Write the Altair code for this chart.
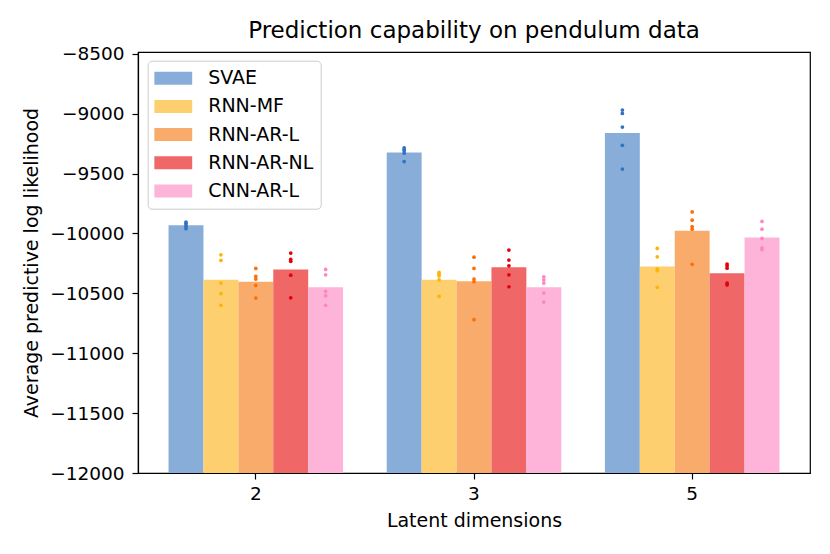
import altair as alt
import pandas as pd

dims = ["2", "3", "5"]
methods = ["SVAE", "RNN-MF", "RNN-AR-L", "RNN-AR-NL", "CNN-AR-L"]
bar_colors = ["#89add9", "#fecf6e", "#f9ab6b", "#ef6767", "#feb3d9"]
dot_colors = ["#3272c2", "#fdb40a", "#fe6f03", "#e3000f", "#fd86c4"]

# mean predictive log likelihood per method (rows) and latent dimension (cols)
means = {
    "SVAE":      [-9931, -9325, -9162],
    "RNN-MF":    [-10387, -10387, -10275],
    "RNN-AR-L":  [-10403, -10400, -9978],
    "RNN-AR-NL": [-10300, -10283, -10333],
    "CNN-AR-L":  [-10450, -10450, -10033],
}

# individual runs (5 per bar)
runs = {
    "SVAE": [
        [-9905, -9915, -9930, -9945, -9960],
        [-9285, -9300, -9310, -9330, -9400],
        [-8970, -8998, -9112, -9264, -9462],
    ],
    "RNN-MF": [
        [-10178, -10225, -10414, -10503, -10600],
        [-10325, -10340, -10355, -10388, -10525],
        [-10125, -10195, -10298, -10311, -10450],
    ],
    "RNN-AR-L": [
        [-10292, -10358, -10381, -10433, -10539],
        [-10198, -10292, -10381, -10403, -10720],
        [-9820, -9889, -9942, -9964, -10258],
    ],
    "RNN-AR-NL": [
        [-10164, -10217, -10233, -10348, -10537],
        [-10139, -10222, -10270, -10345, -10445],
        [-10255, -10270, -10290, -10415, -10430],
    ],
    "CNN-AR-L": [
        [-10300, -10345, -10483, -10520, -10600],
        [-10362, -10387, -10414, -10498, -10573],
        [-9900, -9964, -10042, -10120, -10135],
    ],
}

y_min, y_max = -12000, -8485
y_ticks = [-12000, -11500, -11000, -10500, -10000, -9500, -9000, -8500]

bar_rows = []
dot_rows = []
for m in methods:
    for i, d in enumerate(dims):
        bar_rows.append({"dim": d, "method": m, "value": means[m][i]})
        for v in runs[m][i]:
            dot_rows.append({"dim": d, "method": m, "value": v})
bars_df = pd.DataFrame(bar_rows)
dots_df = pd.DataFrame(dot_rows)

FONT = "DejaVu Sans"

x_enc = alt.X(
    "dim:N",
    sort=dims,
    scale=alt.Scale(paddingInner=0.2, paddingOuter=0.14),
    axis=alt.Axis(
        title="Latent dimensions",
        labelAngle=0,
        labelFontSize=18.5,
        titleFontSize=19,
        labelPadding=5,
        titlePadding=9,
        tickSize=6,
        tickColor="black",
        domainColor="black",
        labelColor="black",
        titleColor="black",
        titleFontWeight="normal",
        grid=False,
        bandPosition=0.5,
    ),
)
xo_enc = alt.XOffset(
    "method:N", sort=methods, scale=alt.Scale(paddingInner=0, paddingOuter=0)
)
y_scale = alt.Scale(domain=[y_min, y_max], zero=False, nice=False)

bars = alt.Chart(bars_df).mark_bar(clip=True).encode(
    x=x_enc,
    xOffset=xo_enc,
    y=alt.Y(
        "value:Q",
        scale=y_scale,
        axis=alt.Axis(
            title="Average predictive log likelihood",
            values=y_ticks,
            format="d",
            labelFontSize=18.5,
            titleFontSize=19,
            labelPadding=8,
            titlePadding=8,
            tickSize=6,
            tickColor="black",
            domainColor="black",
            labelColor="black",
            titleColor="black",
            titleFontWeight="normal",
            grid=False,
        ),
    ),
    y2=alt.datum(y_min),
    color=alt.Color(
        "method:N",
        sort=methods,
        scale=alt.Scale(domain=methods, range=bar_colors),
        legend=alt.Legend(
            title=None,
            orient="none",
            legendX=9.7,
            legendY=8.7,
            symbolType="M-1,-0.342H1V0.342H-1Z",
            symbolSize=1444,
            symbolStrokeWidth=0,
            symbolOpacity=1,
            labelFontSize=19,
            labelColor="black",
            labelOffset=16,
            clipHeight=22,
            rowPadding=6.2,
            padding=6.5,
            strokeColor="#cccccc",
            fillColor="white",
            cornerRadius=4,
        ),
    ),
)

dots = alt.Chart(dots_df).mark_circle(size=14, opacity=1, clip=True).encode(
    x=x_enc,
    xOffset=xo_enc,
    y=alt.Y("value:Q", scale=y_scale),
    color=alt.Color(
        "method:N",
        sort=methods,
        scale=alt.Scale(domain=methods, range=dot_colors),
        legend=None,
    ),
)

chart = (
    alt.layer(bars, dots)
    .resolve_scale(color="independent")
    .properties(
        width=672,
        height=421,
        title=alt.TitleParams(
            "Prediction capability on pendulum data",
            fontSize=23,
            fontWeight="normal",
            color="black",
            font=FONT,
            frame="group",
            offset=2,
        ),
        autosize=alt.AutoSizeParams(type="none"),
        padding={"left": 130, "top": 44, "right": 12, "bottom": 81},
    )
    .configure(font=FONT)
    .configure_view(stroke="black", strokeWidth=1.2)
    .configure_axis(labelFont=FONT, titleFont=FONT, domainWidth=1.2, tickWidth=1.2)
    .configure_legend(labelFont=FONT)
)

chart.save("out.html", embed_options={"renderer": "svg", "actions": False})
